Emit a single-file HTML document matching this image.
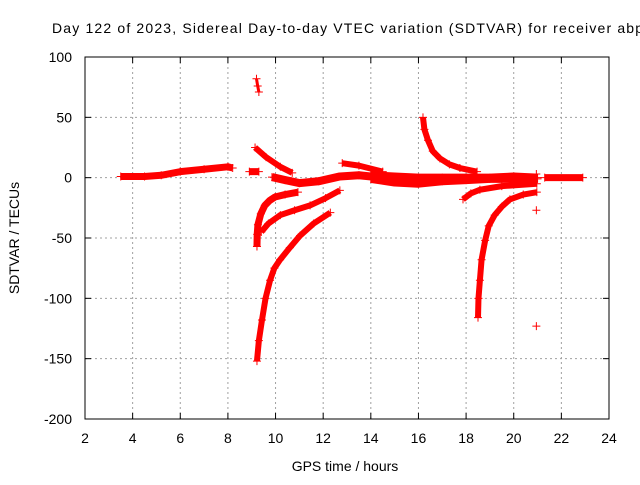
<!DOCTYPE html>
<html><head><meta charset="utf-8"><style>
body{margin:0;background:#fff}
svg text{font-family:"Liberation Sans",sans-serif;font-size:14px;fill:#000}
</style></head><body>
<svg id="c" width="640" height="480" xmlns="http://www.w3.org/2000/svg">
<text x="52" y="33" textLength="600" lengthAdjust="spacing">Day 122 of 2023, Sidereal Day-to-day VTEC variation (SDTVAR) for receiver abpo</text>
<text x="345" y="471" text-anchor="middle">GPS time / hours</text>
<text transform="translate(19,238) rotate(-90)" text-anchor="middle">SDTVAR / TECUs</text>
<g id="grid"></g><g id="marks"></g>
<rect x="85" y="57" width="524" height="362" fill="none" stroke="#000"/>
</svg>
<script>
const xTicks=[2,4,6,8,10,12,14,16,18,20,22,24];
const yTicks=[100,50,0,-50,-100,-150,-200];
const s1=[[3.5,1],[4.5,1],[5.2,2],[6,5],[7,7],[8,9],[8.2,8]];
const s2=[[8.9,5],[9.3,5]];
const s3=[[9.2,82],[9.25,76],[9.3,71]];
const s4=[[9.14,25],[9.6,17],[10.2,9],[10.7,4]];
const s5=[[9.85,0.5],[10.4,-2],[11,-4.5],[11.8,-3],[12.7,1],[13.5,2],[14.5,0],[15.5,-1]];
const s5b=[[12.8,12],[13.5,10],[14.5,5]];
const s6=[[14,-1],[15,-4],[16,-5],[17,-3],[18,-2],[19,-1],[21,-1]];
const s6b=[[14,2],[15,1],[16,0],[17,0],[18,0],[19,0],[20,1],[21,0]];
const s7=[[16.19,50],[16.25,40],[16.4,31],[16.6,22],[16.9,16],[17.3,11],[17.74,8],[18.46,5]];
const s8=[[17.87,-18],[18.2,-13],[18.58,-10],[19.5,-7],[20.97,-5]];
const s9=[[18.5,-116],[18.52,-100],[18.58,-85],[18.65,-68],[18.8,-52],[18.95,-40],[19.2,-31],[19.5,-24],[19.84,-18],[20.4,-14],[20.97,-12]];
const s10=[[21.3,0],[22.9,0]];
const s11=[[9.22,-57],[9.23,-47],[9.26,-39],[9.38,-30],[9.55,-23],[9.75,-19],[9.98,-16],[10.4,-14],[10.94,-12]];
const s12=[[9.4,-45],[9.7,-38],[10.2,-31],[10.8,-27],[11.45,-23],[12.1,-17],[12.7,-10.5]];
const s13=[[9.22,-152],[9.3,-135],[9.43,-118],[9.58,-100],[9.77,-85],[9.95,-75],[10.19,-68],[10.6,-58],[11.03,-48],[11.6,-38],[12.3,-29]];
const lone=[[20.95,-27],[20.95,-123],[20.95,3]];
const series=[s1,s2,s3,s4,s5,s5b,s6,s6b,s7,s8,s9,s10,s11,s12,s13];
const widths=[7,7,3,6,8,6,8,8,6,6,6,7,7,6,6];
const X=v=>85+(v-2)*524/22, Y=v=>57+(100-v)*362/300;
const NS="http://www.w3.org/2000/svg";
const svg=document.getElementById('c'),g=document.getElementById('grid'),m=document.getElementById('marks');
function mk(t,a,p){const e=document.createElementNS(NS,t);for(const k in a)e.setAttribute(k,a[k]);p.appendChild(e);return e;}
xTicks.forEach(t=>{const x=X(t);
 if(t>2&&t<24){const l=mk('line',{x1:x,x2:x,y1:57,y2:419,stroke:'#a0a0a0','stroke-dasharray':'2,3'},g);}
 const k=mk('line',{x1:x,x2:x,y1:419,y2:413,stroke:'#000'},g);
 const k2=mk('line',{x1:x,x2:x,y1:57,y2:63,stroke:'#000'},g);
 const tx=mk('text',{x:x,y:443,'text-anchor':'middle'},svg);tx.textContent=t;});
yTicks.forEach(t=>{const y=Y(t);
 if(t<100&&t>-200){const l=mk('line',{x1:85,x2:609,y1:y,y2:y,stroke:'#a0a0a0','stroke-dasharray':'2,3'},g);}
 const k=mk('line',{x1:85,x2:91,y1:y,y2:y,stroke:'#000'},g);
 const k2=mk('line',{x1:603,x2:609,y1:y,y2:y,stroke:'#000'},g);
 const tx=mk('text',{x:72,y:y+5,'text-anchor':'end'},svg);tx.textContent=t;});
function plus(x,y){const p=mk('path',{d:`M${x-4},${y}h8M${x},${y-4}v8`,stroke:'#f00','stroke-width':1},m);
 
 }
series.forEach((s,i)=>{const pl=mk('polyline',{points:s.map(p=>X(p[0])+','+Y(p[1])).join(' '),fill:'none',stroke:'#f00','stroke-width':widths[i],'stroke-linejoin':'round'},m);
 
 
 s.forEach(p=>plus(X(p[0]),Y(p[1])));});
lone.forEach(p=>plus(X(p[0]),Y(p[1])));
</script>
</body></html>
